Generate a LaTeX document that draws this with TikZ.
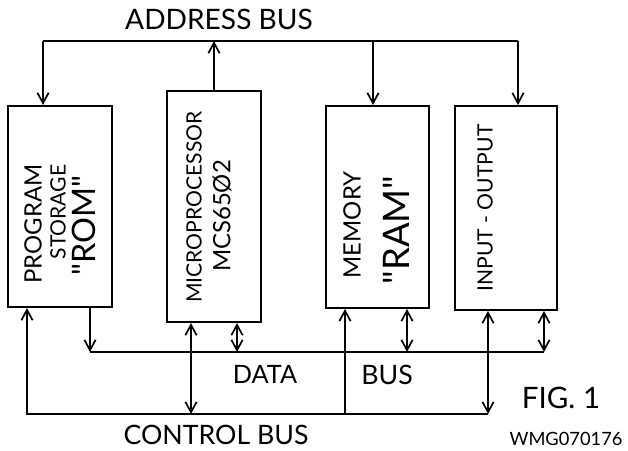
\documentclass[tikz,border=0pt]{standalone}
\usepackage{fontspec}
\setmainfont{Lato}[Ligatures=TeXOff]
\usetikzlibrary{arrows.meta}
\newcommand\lettering[1]{\fontsize{#1}{#1}\selectfont}

\begin{document}
\begin{tikzpicture}[x=0.025cm, y=-0.025cm, line width=1.2pt,
  unit/.style={draw, line width=1.3pt, inner sep=0pt},
  lbl/.style={inner sep=0pt, font=\lettering{#1}},
  vlbl/.style={inner sep=0pt, rotate=90, font=\lettering{#1}},
  tip/.style={-{Straight Barb[length=2.6mm,width=2.8mm]}},
  tips/.style={{Straight Barb[length=2.6mm,width=2.8mm]}-{Straight Barb[length=2.6mm,width=2.8mm]}}]
\useasboundingbox (0,0) rectangle (628,450);

% the four units
\node[unit, minimum width=2.6cm, minimum height=5.03cm] (rom) at (60,206.5) {};
\node[unit, minimum width=2.35cm, minimum height=5.78cm] (mpu) at (214,206.5) {};
\node[unit, minimum width=2.58cm, minimum height=5.05cm] (ram) at (377.5,207) {};
\node[unit, minimum width=2.55cm, minimum height=5.1cm] (io) at (506,208) {};

\node[vlbl=17] (romA) at (33,224) {PROGRAM};
\node[vlbl=15] (romB) at (58,212) {STORAGE};
\node[vlbl=23] (romC) at (84,226) {"ROM"};
\node[vlbl=15] (mpuA) at (194,207) {MICROPROCESSOR};
\node[vlbl=17] (mpuB) at (222,216) {MCS65Ø2};
\node[vlbl=17] (ramA) at (352,225) {MEMORY};
\node[vlbl=26] (ramB) at (396,230) {"RAM"};
\node[vlbl=15] (ioA) at (485,208) {INPUT - OUTPUT};

% address bus
\coordinate (ab1) at (43,41);
\coordinate (ab2) at (518,41);
\coordinate (ab3) at (373,41);
\draw (ab1) -- (ab2);
\draw[tip] (ab1) -- (ab1 |- rom.north);
\draw[tip] (mpu.north) -- (mpu.north |- ab1);
\draw[tip] (ab3) -- (ab3 |- ram.north);
\draw[tip] (ab2) -- (ab2 |- io.north);

% data bus
\coordinate (db1) at (90,352);
\coordinate (db2) at (544,352);
\coordinate (db3) at (237,352);
\coordinate (db4) at (407,352);
\draw (db1) -- (db2);
\draw[tip] (db1 |- rom.south) -- (db1);
\draw[tips] (db3 |- mpu.south) -- (db3);
\draw[tips] (db4 |- ram.south) -- (db4);
\draw[tips] (db2 |- io.south) -- (db2);

% control bus
\coordinate (cb1) at (27,414);
\coordinate (cb2) at (488,414);
\coordinate (cb3) at (191,414);
\coordinate (cb4) at (345,414);
\draw[tip] (cb2) -- (cb1) -- (cb1 |- rom.south);
\draw[tips] (cb3 |- mpu.south) -- (cb3);
\draw[tip] (cb4) -- (cb4 |- ram.south);
\draw[tips] (cb2 |- io.south) -- (cb2);

% bus names
\node[lbl=20] (abus) at (219,19) {ADDRESS BUS};
\node[lbl=18] (dbusA) at (265,374) {DATA};
\node[lbl=19] (dbusB) at (387,375) {BUS};
\node[lbl=19] (cbus) at (216,435) {CONTROL BUS};
\node[lbl=21] (fig) at (561,398) {FIG. 1};
\node[lbl=13] (dwg) at (566,439) {WMG070176};
\end{tikzpicture}
\end{document}
